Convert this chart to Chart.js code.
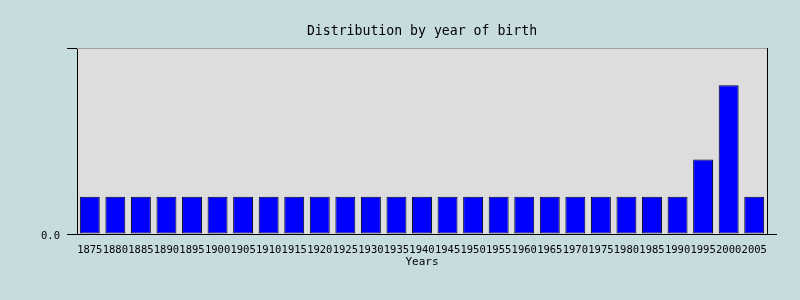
<!DOCTYPE html>
<html>
<head>
<meta charset="utf-8">
<script src="https://cdn.jsdelivr.net/npm/chart.js@4"></script>
<style>
  html, body { margin: 0; padding: 0; background: #c6dcdf; }
  #wrap { width: 800px; height: 300px; }
</style>
</head>
<body>
<div id="wrap"><canvas id="chart" width="800" height="300"></canvas></div>
<script>
const years = ['1875','1880','1885','1890','1895','1900','1905','1910','1915','1920','1925','1930','1935','1940',
  '1945','1950','1955','1960','1965','1970','1975','1980','1985','1990','1995','2000','2005'];
const counts = [1,1,1,1,1,1,1,1,1,1,1,1,1,1,1,1,1,1,1,1,1,1,1,1,2,4,1];
const yTicks = [0, 5];
const yTickLabels = ['0.0', ''];

const MONO = "'DejaVu Sans Mono', 'Liberation Mono', monospace";

// plot background, top/right frame and the long bottom axis line
const frame = {
  id: 'frame',
  beforeDraw(c) {
    const { ctx, chartArea: a } = c;
    ctx.save();
    ctx.fillStyle = '#dddddd';
    ctx.fillRect(a.left, a.top, a.right - a.left, a.bottom - a.top);
    ctx.restore();
  },
  afterDraw(c) {
    const { ctx, chartArea: a } = c;
    ctx.save();
    ctx.lineWidth = 1;
    ctx.strokeStyle = '#a0a0a0';
    ctx.beginPath();
    ctx.moveTo(a.left, a.top + 0.5);
    ctx.lineTo(a.right, a.top + 0.5);
    ctx.stroke();
    ctx.strokeStyle = '#000';
    ctx.beginPath();
    ctx.moveTo(a.right + 0.5, a.top);
    ctx.lineTo(a.right + 0.5, a.bottom);
    ctx.moveTo(a.left - 10, a.bottom + 0.5);
    ctx.lineTo(a.right + 10, a.bottom + 0.5);
    ctx.stroke();
    ctx.restore();
  }
};

new Chart(document.getElementById('chart'), {
  type: 'bar',
  data: {
    labels: years,
    datasets: [{
      data: counts,
      backgroundColor: '#0000ff',
      borderColor: '#000022',
      borderWidth: 1,
      borderSkipped: false,
      barPercentage: 0.78,
      categoryPercentage: 1
    }]
  },
  options: {
    responsive: false,
    animation: false,
    events: [],
    layout: { padding: { left: 0, right: 33, top: 0, bottom: 0 } },
    plugins: {
      legend: { display: false },
      tooltip: { enabled: false },
      title: {
        display: true,
        fullSize: false,
        text: 'Distribution by year of birth',
        color: '#000',
        font: { family: MONO, size: 13.2, weight: 'normal' },
        padding: { top: 24, bottom: 8.2 }
      }
    },
    scales: {
      x: {
        grid: { display: false, drawTicks: false },
        border: { display: false },
        ticks: {
          color: '#000',
          font: { family: MONO, size: 10.5 },
          autoSkip: false,
          maxRotation: 0,
          minRotation: 0,
          padding: 10
        },
        title: {
          display: true,
          text: 'Years',
          color: '#000',
          font: { family: MONO, size: 11 },
          padding: { top: 0, bottom: 31 }
        },
        afterFit(s) { s.height = 66; }
      },
      y: {
        min: 0,
        max: 5,
        grid: { drawOnChartArea: false, drawTicks: true, tickLength: 10, color: '#000' },
        border: { display: true, color: '#000', width: 1 },
        afterBuildTicks(s) { s.ticks = yTicks.map(v => ({ value: v })); },
        ticks: {
          color: '#000',
          font: { family: MONO, size: 10.5 },
          padding: 7,
          labelOffset: 2,
          callback: (v) => yTickLabels[yTicks.indexOf(v)]
        },
        afterFit(s) { s.width = 77; }
      }
    }
  },
  plugins: [frame]
});
</script>
</body>
</html>
